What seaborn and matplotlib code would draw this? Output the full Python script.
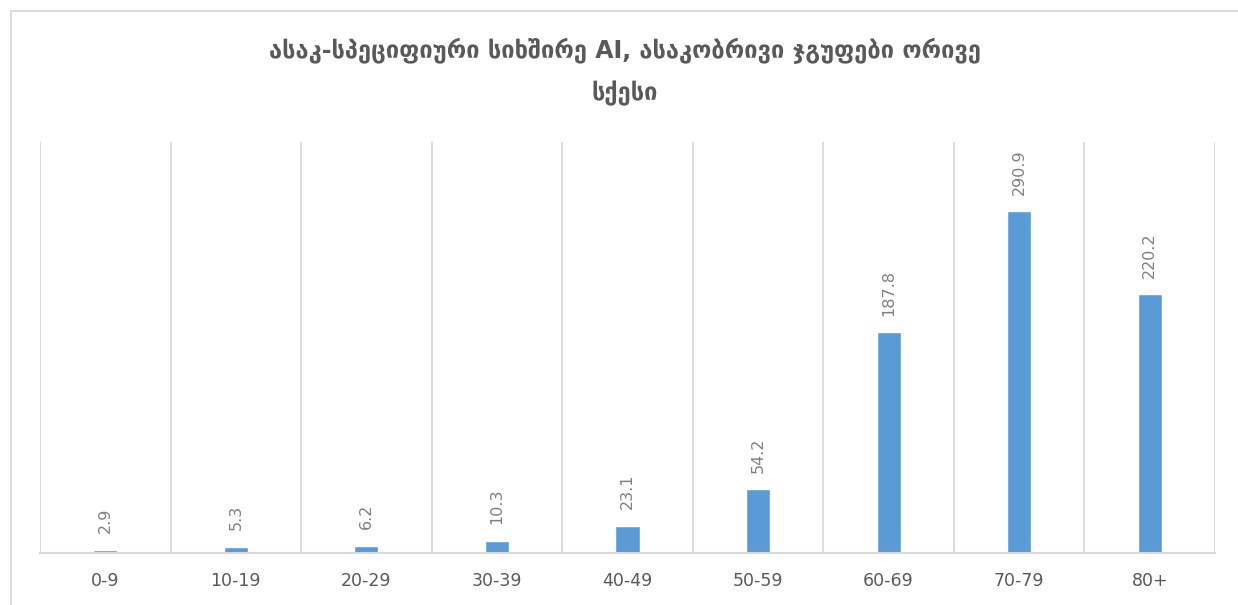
import matplotlib
matplotlib.use("Agg")
import matplotlib.pyplot as plt
from matplotlib.patches import Rectangle
import seaborn as sns
import numpy as np
import pandas as pd

# ---- data ----
categories = ["0-9", "10-19", "20-29", "30-39", "40-49", "50-59", "60-69", "70-79", "80+"]
values = [2.9, 5.3, 6.2, 10.3, 23.1, 54.2, 187.8, 290.9, 220.2]
value_labels = ["2.9", "5.3", "6.2", "10.3", "23.1", "54.2", "187.8", "290.9", "220.2"]
title_text = "ასაკ-სპეციფიური სიხშირე AI, ასაკობრივი ჯგუფები ორივე\nსქესი"

sns.set_theme(style="white")
plt.rcParams['font.family'] = ['DejaVu Sans']

bar_color = "#5B9BD5"
grid_color = "#D9D9D9"
text_dark = "#595959"
label_gray = "#808080"

df = pd.DataFrame({"age": categories, "value": values})

fig = plt.figure(figsize=(12.38, 6.05), dpi=100)
W, H = 1238, 605
ax = fig.add_axes([40 / W, (H - 553) / H, (1215 - 40) / W, (553 - 142) / H])

sns.barplot(data=df, x="age", y="value", color=bar_color, width=0.185,
            saturation=1, ax=ax, zorder=3)

ax.set_xlim(-0.5, len(categories) - 0.5)
ax.set_ylim(0, 350)

# category boundary gridlines
ax.set_xticks(np.arange(-0.5, len(categories), 1.0), minor=True)
ax.grid(True, which="minor", axis="x", color=grid_color, linewidth=1.3, zorder=0)
ax.grid(False, which="major")
ax.tick_params(axis="x", which="both", length=0)
ax.set_yticks([])

for s in ["top", "right", "left"]:
    ax.spines[s].set_visible(False)
ax.spines["bottom"].set_color(grid_color)
ax.spines["bottom"].set_linewidth(1.5)
ax.spines["bottom"].set_zorder(4)

ax.set_xticks(range(len(categories)))
ax.set_xticklabels(categories, fontsize=12.5, color=text_dark)
ax.tick_params(axis="x", which="major", pad=14)
ax.set_xlabel("")
ax.set_ylabel("")

# data labels
for i, (v, lab) in enumerate(zip(values, value_labels)):
    ax.annotate(lab, xy=(i, v), xytext=(0, 12), textcoords="offset points",
                rotation=90, ha="center", va="bottom", fontsize=11.5,
                color=label_gray)

# title
fig.text(0.505, 1 - 72 / H, title_text, ha="center", va="center",
         fontsize=17, fontweight="bold", color=text_dark, linespacing=1.85)

# chart area border
fig.patches.append(Rectangle((11 / W, -0.05), 1.2, (H - 11) / H + 0.05,
                             transform=fig.transFigure, fill=False,
                             edgecolor=grid_color, linewidth=1.3))

fig.savefig("out.png", dpi=100, facecolor="white")
